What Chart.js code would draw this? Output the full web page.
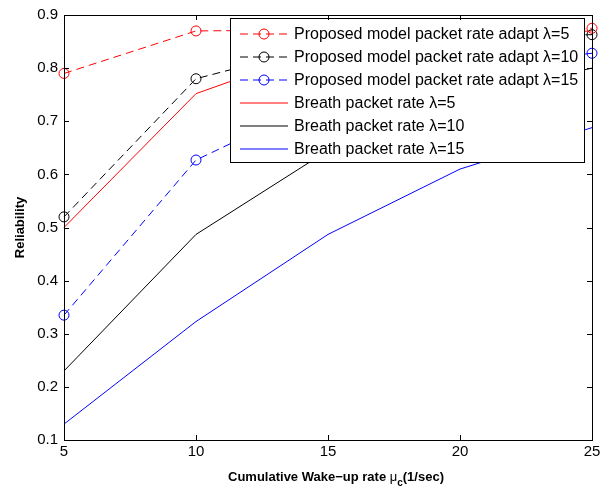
<!DOCTYPE html>
<html lang="en">
<head>
    <meta charset="UTF-8">
    <title>Reliability vs Cumulative Wake-up rate</title>
    <script src="https://cdn.jsdelivr.net/npm/chart.js"></script>
    <style>
        body {
            margin: 0;
            background-color: #fff;
        }
        #chart {
            display: block;
        }
    </style>
</head>
<body>
    <canvas id="chart" width="616" height="491"></canvas>

    <script>
        // Datos
        const wakeupRates = [5, 10, 15, 20, 25];
        const yTicks = [0.1, 0.2, 0.3, 0.4, 0.5, 0.6, 0.7, 0.8, 0.9];

        const proposedL5 = [0.79, 0.870, 0.872, 0.873, 0.875];
        const proposedL10 = [0.52, 0.78, 0.845, 0.857, 0.863];
        const proposedL15 = [0.335, 0.627, 0.745, 0.80, 0.828];
        const breathL5 = [0.50, 0.752, 0.84, 0.86, 0.87];
        const breathL10 = [0.23, 0.487, 0.645, 0.745, 0.80];
        const breathL15 = [0.13, 0.323, 0.487, 0.61, 0.688];

        const seriesNames = [
            'Proposed model packet rate adapt \u03bb=5',
            'Proposed model packet rate adapt \u03bb=10',
            'Proposed model packet rate adapt \u03bb=15',
            'Breath packet rate \u03bb=5',
            'Breath packet rate \u03bb=10',
            'Breath packet rate \u03bb=15'
        ];
        const seriesColors = ['#ff0000', '#000000', '#0000ff', '#ff0000', '#000000', '#0000ff'];
        const seriesDashed = [true, true, true, false, false, false];

        const FONT = '"Liberation Sans", Arial, Helvetica, sans-serif';

        function toPoints(values) {
            return wakeupRates.map((x, i) => ({ x: x, y: values[i] }));
        }

        function dashedSeries(label, values, color) {
            return {
                label: label,
                data: toPoints(values),
                borderColor: color,
                borderWidth: 1,
                borderDash: [8, 5],
                pointStyle: 'circle',
                pointRadius: 5,
                pointBorderWidth: 1,
                pointBorderColor: color,
                pointBackgroundColor: 'rgba(0,0,0,0)',
                clip: false
            };
        }

        function solidSeries(label, values, color) {
            return {
                label: label,
                data: toPoints(values),
                borderColor: color,
                borderWidth: 1,
                pointRadius: 0,
                clip: false
            };
        }

        // Marco con marcas hacia adentro en los cuatro lados
        const framePlugin = {
            id: 'frame',
            afterDraw(chart) {
                const { ctx, chartArea: a, scales } = chart;
                ctx.save();
                ctx.strokeStyle = '#000';
                ctx.lineWidth = 1;
                ctx.strokeRect(a.left + 0.5, a.top + 0.5, a.right - a.left, a.bottom - a.top);
                ctx.beginPath();
                wakeupRates.forEach(v => {
                    const x = Math.round(scales.x.getPixelForValue(v)) + 0.5;
                    ctx.moveTo(x, a.bottom); ctx.lineTo(x, a.bottom - 5);
                    ctx.moveTo(x, a.top); ctx.lineTo(x, a.top + 5);
                });
                yTicks.forEach(v => {
                    const y = Math.round(scales.y.getPixelForValue(v)) + 0.5;
                    ctx.moveTo(a.left, y); ctx.lineTo(a.left + 5, y);
                    ctx.moveTo(a.right, y); ctx.lineTo(a.right - 5, y);
                });
                ctx.stroke();

                // titulos de ejes
                ctx.fillStyle = '#000';
                ctx.textBaseline = 'alphabetic';
                const main = 'Cumulative Wake\u2212up rate ';
                const mu = '\u03bc';
                const rest = '(1/sec)';
                ctx.font = 'bold 13px ' + FONT;
                const w1 = ctx.measureText(main).width;
                ctx.font = '13px ' + FONT;
                const w2 = ctx.measureText(mu).width;
                ctx.font = 'bold 10px ' + FONT;
                const w3 = ctx.measureText('c').width;
                ctx.font = 'bold 13px ' + FONT;
                const w4 = ctx.measureText(rest).width;
                let x0 = (a.left + a.right) / 2 - (w1 + w2 + w3 + w4) / 2 + 8;
                const yb = 481;
                ctx.textAlign = 'left';
                ctx.fillText(main, x0, yb); x0 += w1;
                ctx.font = '13px ' + FONT;
                ctx.fillText(mu, x0, yb); x0 += w2;
                ctx.font = 'bold 10px ' + FONT;
                ctx.fillText('c', x0, yb + 5); x0 += w3;
                ctx.font = 'bold 13px ' + FONT;
                ctx.fillText(rest, x0, yb);

                ctx.translate(24, (a.top + a.bottom) / 2);
                ctx.rotate(-Math.PI / 2);
                ctx.textAlign = 'center';
                ctx.fillText('Reliability', 0, 0);
                ctx.restore();
            }
        };

        // Leyenda dentro del area del grafico
        const boxLegendPlugin = {
            id: 'boxLegend',
            afterDatasetsDraw(chart) {
                const ctx = chart.ctx;
                const bx = 230.5, by = 18.5, bw = 354, bh = 144;
                ctx.save();
                ctx.fillStyle = '#fff';
                ctx.fillRect(bx, by, bw, bh);
                ctx.strokeStyle = '#000';
                ctx.lineWidth = 1;
                ctx.strokeRect(bx, by, bw, bh);
                ctx.font = '16px ' + FONT;
                ctx.textBaseline = 'middle';
                ctx.textAlign = 'left';
                seriesNames.forEach((name, i) => {
                    const y = Math.round(by + 15 + i * 23);
                    ctx.strokeStyle = seriesColors[i];
                    ctx.lineWidth = 1;
                    ctx.setLineDash(seriesDashed[i] ? [8, 5] : []);
                    ctx.beginPath();
                    ctx.moveTo(240, y);
                    ctx.lineTo(288, y);
                    ctx.stroke();
                    ctx.setLineDash([]);
                    if (seriesDashed[i]) {
                        ctx.beginPath();
                        ctx.arc(264, y, 5, 0, Math.PI * 2);
                        ctx.stroke();
                    }
                    ctx.fillStyle = '#000';
                    ctx.fillText(name, 294, y + 1);
                });
                ctx.restore();
            }
        };

        const ctx = document.getElementById('chart').getContext('2d');
        const reliabilityChart = new Chart(ctx, {
            type: 'line',
            data: {
                datasets: [
                    dashedSeries(seriesNames[0], proposedL5, seriesColors[0]),
                    dashedSeries(seriesNames[1], proposedL10, seriesColors[1]),
                    dashedSeries(seriesNames[2], proposedL15, seriesColors[2]),
                    solidSeries(seriesNames[3], breathL5, seriesColors[3]),
                    solidSeries(seriesNames[4], breathL10, seriesColors[4]),
                    solidSeries(seriesNames[5], breathL15, seriesColors[5])
                ]
            },
            options: {
                responsive: false,
                animation: false,
                layout: {
                    padding: { left: 0, top: 10, right: 24, bottom: 0 }
                },
                plugins: {
                    legend: { display: false },
                    tooltip: { enabled: false }
                },
                scales: {
                    x: {
                        type: 'linear',
                        min: 5,
                        max: 25,
                        afterBuildTicks: scale => {
                            scale.ticks = wakeupRates.map(v => ({ value: v }));
                        },
                        grid: { display: false, drawTicks: false, tickLength: 0 },
                        border: { display: false },
                        ticks: {
                            color: '#000',
                            font: { family: FONT, size: 15 },
                            padding: 3,
                            maxRotation: 0
                        },
                        afterFit: scale => { scale.height = 51; }
                    },
                    y: {
                        min: 0.1,
                        max: 0.9,
                        afterBuildTicks: scale => {
                            scale.ticks = yTicks.map(v => ({ value: v }));
                        },
                        grid: { display: false, drawTicks: false, tickLength: 0 },
                        border: { display: false },
                        ticks: {
                            color: '#000',
                            font: { family: FONT, size: 15 },
                            padding: 6,
                            callback: v => v.toFixed(1)
                        },
                        afterFit: scale => { scale.width = 64; }
                    }
                }
            },
            plugins: [framePlugin, boxLegendPlugin]
        });
    </script>
</body>
</html>
